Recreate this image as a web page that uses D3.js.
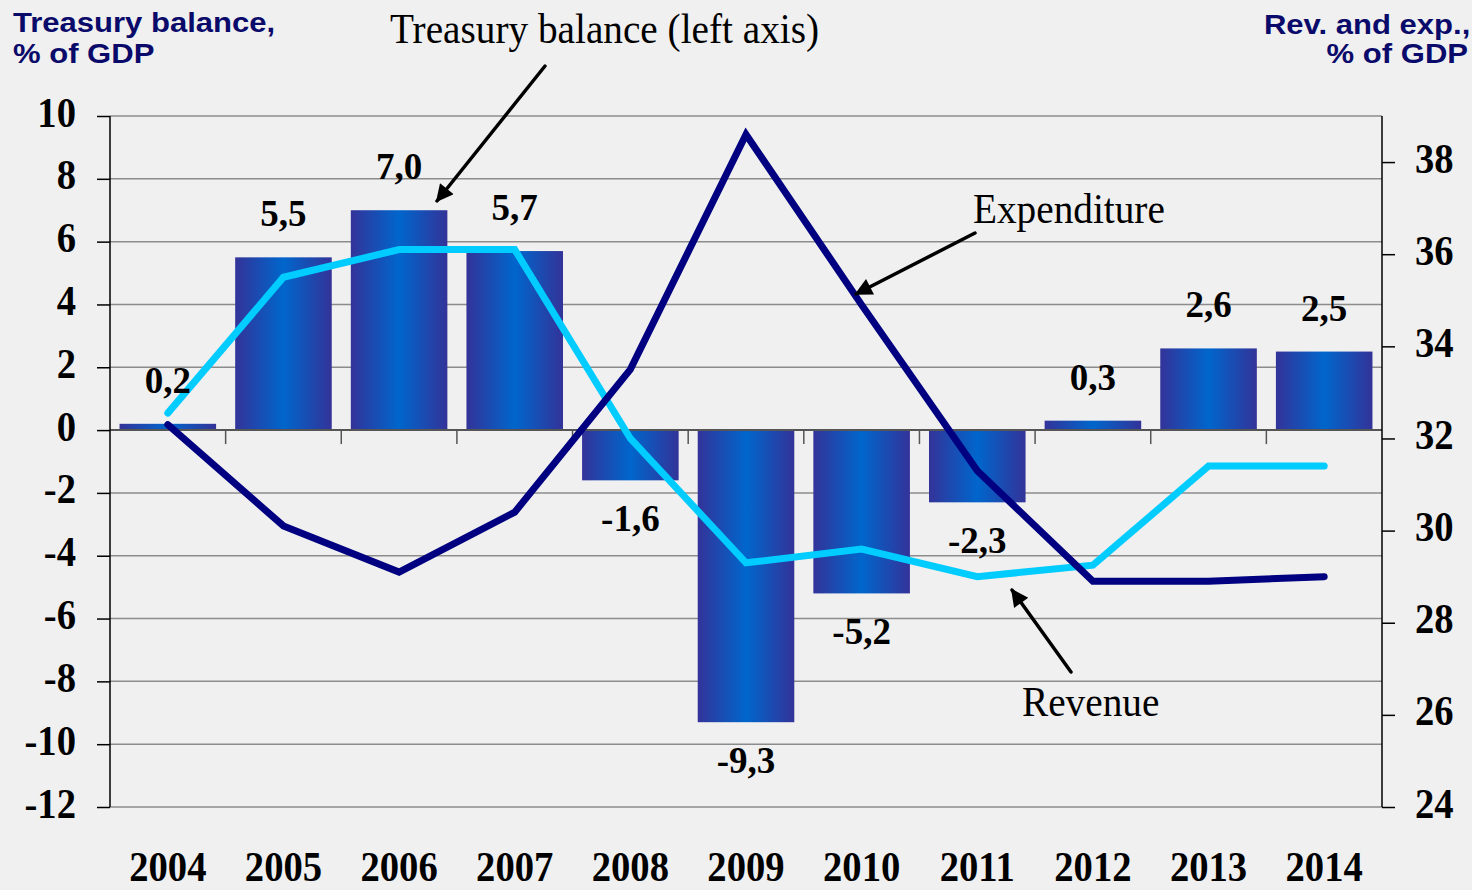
<!DOCTYPE html>
<html>
<head>
<meta charset="utf-8">
<script src="https://cdn.jsdelivr.net/npm/d3@7"></script>
<style>
  body { margin: 0; background: #f0f0f0; }
  svg { display: block; }
</style>
</head>
<body>
<svg width="1472" height="890"></svg>
<script>
const years = ['2004', '2005', '2006', '2007', '2008', '2009', '2010', '2011', '2012', '2013', '2014'];
const balance = [0.2, 5.5, 7.0, 5.7, -1.6, -9.3, -5.2, -2.3, 0.3, 2.6, 2.5];
const revenue = [32.55, 35.5, 36.1, 36.1, 32.0, 29.3, 29.6, 29.0, 29.25, 31.4, 31.4];
const expenditure = [32.3, 30.1, 29.1, 30.4, 33.5, 38.6, 34.9, 31.3, 28.9, 28.9, 29.0];
const leftTicks = [-12, -10, -8, -6, -4, -2, 0, 2, 4, 6, 8, 10];
const rightTicks = [24, 26, 28, 30, 32, 34, 36, 38];

const svg = d3.select('svg');

const plotLeft = 110, plotRight = 1382, plotTop = 116, plotBottom = 807;
const serif = '"Liberation Serif", "Times New Roman", serif';
const sans = '"Liberation Sans", Arial, sans-serif';

const x = d3.scaleBand()
  .domain(years)
  .range([plotLeft, plotRight])
  .paddingInner(0.165)
  .paddingOuter(0.0825);

const y = d3.scaleLinear().domain([-12, 10]).range([plotBottom, plotTop]);
const y2 = d3.scaleLinear().domain([24, 39]).range([plotBottom, plotTop]);

const fmt = d => String(d).replace('.', ',');

const defs = svg.append('defs');
const grad = defs.append('linearGradient')
  .attr('id', 'barGrad')
  .attr('x1', '0%').attr('x2', '100%')
  .attr('y1', '0%').attr('y2', '0%');
grad.append('stop').attr('offset', '0%').attr('stop-color', '#333399');
grad.append('stop').attr('offset', '50%').attr('stop-color', '#0066cc');
grad.append('stop').attr('offset', '100%').attr('stop-color', '#333399');

defs.append('marker')
  .attr('id', 'arrow')
  .attr('viewBox', '0 0 10 10')
  .attr('refX', 9).attr('refY', 5)
  .attr('markerWidth', 6).attr('markerHeight', 5)
  .attr('markerUnits', 'strokeWidth')
  .attr('orient', 'auto')
  .append('path')
  .attr('d', 'M0,0 L10,5 L0,10 Z')
  .attr('fill', '#000');

// grid
svg.append('g')
  .selectAll('line')
  .data(leftTicks)
  .join('line')
  .attr('x1', plotLeft).attr('x2', plotRight)
  .attr('y1', d => y(d)).attr('y2', d => y(d))
  .attr('stroke', '#8c8c8c')
  .attr('stroke-width', 1.5);

// bars
svg.append('g')
  .selectAll('rect')
  .data(balance)
  .join('rect')
  .attr('x', (d, i) => x(years[i]))
  .attr('width', x.bandwidth())
  .attr('y', d => y(Math.max(d, 0)))
  .attr('height', d => Math.abs(y(d) - y(0)))
  .attr('fill', 'url(#barGrad)');

// zero line with category ticks
const step = x.step();
svg.append('line')
  .attr('x1', plotLeft).attr('x2', plotRight)
  .attr('y1', y(0)).attr('y2', y(0))
  .attr('stroke', '#555')
  .attr('stroke-width', 2);

svg.append('g')
  .selectAll('line')
  .data(d3.range(1, years.length))
  .join('line')
  .attr('x1', i => plotLeft + i * step).attr('x2', i => plotLeft + i * step)
  .attr('y1', y(0)).attr('y2', y(0) + 14)
  .attr('stroke', '#555')
  .attr('stroke-width', 1.5);

// lines
const cx = (d, i) => x(years[i]) + x.bandwidth() / 2;

svg.append('path')
  .datum(revenue)
  .attr('d', d3.line().x(cx).y(d => y2(d)))
  .attr('fill', 'none')
  .attr('stroke', '#00ccff')
  .attr('stroke-width', 7)
  .attr('stroke-linecap', 'round');

svg.append('path')
  .datum(expenditure)
  .attr('d', d3.line().x(cx).y(d => y2(d)))
  .attr('fill', 'none')
  .attr('stroke', '#000080')
  .attr('stroke-width', 7)
  .attr('stroke-linecap', 'round');

// axes
const leftAxis = svg.append('g')
  .attr('transform', `translate(${plotLeft},0)`)
  .call(d3.axisLeft(y).tickValues(leftTicks).tickFormat(fmt).tickSize(13).tickSizeOuter(0));

const rightAxis = svg.append('g')
  .attr('transform', `translate(${plotRight},0)`)
  .call(d3.axisRight(y2).tickValues(rightTicks).tickFormat(fmt).tickSize(13).tickSizeOuter(0));

[leftAxis, rightAxis].forEach(a => {
  a.select('.domain').attr('stroke', '#000').attr('stroke-width', 1.5)
    .attr('d', `M0,${plotTop}V${plotBottom}`);
  a.selectAll('.tick line').attr('stroke', '#000').attr('stroke-width', 1.5);
  a.selectAll('.tick text')
    .attr('x', 0)
    .attr('dy', null)
    .attr('fill', '#000')
    .style('font-family', serif)
    .style('font-weight', 'bold')
    .style('font-size', '42px');
});

leftAxis.selectAll('.tick text')
  .attr('text-anchor', 'end')
  .attr('transform', 'translate(-34,10) scale(0.92,1)');

rightAxis.selectAll('.tick text')
  .attr('text-anchor', 'start')
  .attr('transform', 'translate(33,10) scale(0.92,1)');

// year labels
svg.append('g')
  .selectAll('text')
  .data(years)
  .join('text')
  .attr('transform', d => `translate(${x(d) + x.bandwidth() / 2},881) scale(0.92,1)`)
  .attr('text-anchor', 'middle')
  .style('font-family', serif)
  .style('font-weight', 'bold')
  .style('font-size', '42px')
  .text(d => d);

// value labels
svg.append('g')
  .selectAll('text')
  .data(balance)
  .join('text')
  .attr('x', cx)
  .attr('y', d => d >= 0 ? y(d) - 31 : y(d) + 51)
  .attr('text-anchor', 'middle')
  .style('font-family', serif)
  .style('font-weight', 'bold')
  .style('font-size', '37px')
  .text(d => d3.format('.1f')(d).replace('.', ',').replace('−', '-'));

// titles
const titleL = svg.append('text')
  .attr('fill', '#0a0a6a')
  .style('font-family', sans)
  .style('font-weight', 'bold')
  .style('font-size', '27px');
titleL.append('tspan').attr('x', 0).attr('y', 0).text('Treasury balance,');
titleL.append('tspan').attr('x', 0).attr('y', 31).text('% of GDP');
titleL.attr('transform', 'translate(13,32) scale(1.15,1)');

const titleR = svg.append('text')
  .attr('fill', '#0a0a6a')
  .attr('text-anchor', 'end')
  .style('font-family', sans)
  .style('font-weight', 'bold')
  .style('font-size', '27px');
titleR.append('tspan').attr('x', 2).attr('y', 0).text('Rev. and exp.,');
titleR.append('tspan').attr('x', 0).attr('y', 29).text('% of GDP');
titleR.attr('transform', 'translate(1468,34) scale(1.15,1)');

// annotations
const notes = [
  {text: 'Treasury balance (left axis)', tx: 390, ty: 43, from: [545, 66], to: [437, 201]},
  {text: 'Expenditure', tx: 973, ty: 223, from: [975, 233], to: [856, 294]},
  {text: 'Revenue', tx: 1022, ty: 716, from: [1071, 672], to: [1012, 590]}
];

notes.forEach(n => {
  svg.append('text')
    .attr('transform', `translate(${n.tx},${n.ty}) scale(0.935,1)`)
    .style('font-family', serif)
    .style('font-size', '42px')
    .text(n.text);
  svg.append('line')
    .attr('x1', n.from[0]).attr('y1', n.from[1])
    .attr('x2', n.to[0]).attr('y2', n.to[1])
    .attr('stroke', '#000')
    .attr('stroke-width', 3.5)
    .attr('stroke-linecap', 'round')
    .attr('marker-end', 'url(#arrow)');
});
</script>
</body>
</html>
